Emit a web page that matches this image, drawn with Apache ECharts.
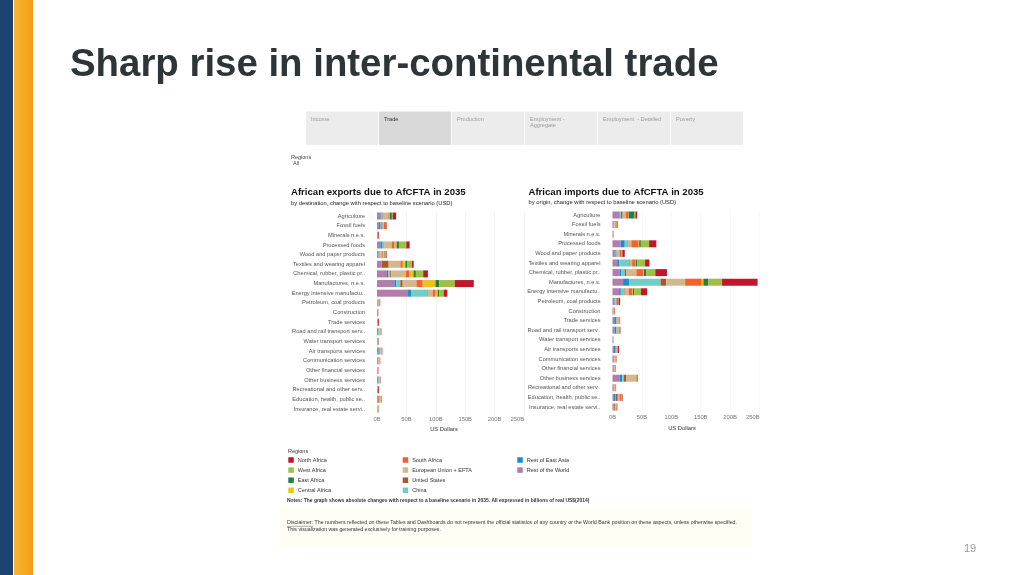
<!DOCTYPE html>
<html><head><meta charset="utf-8">
<script src="https://cdn.jsdelivr.net/npm/echarts@6/dist/echarts.min.js"></script>
<style>html,body{margin:0;padding:0;background:#fff}#c{width:1024px;height:575px}</style>
</head><body><div id="c"></div>
<script>
// ---- data ----
const categories = ["Agriculture","Fossil fuels","Minerals n.e.s.","Processed foods","Wood and paper products","Textiles and wearing apparel","Chemical, rubber, plastic pr..","Manufactures, n.e.s.","Energy intensive manufactu..","Petroleum, coal products","Construction","Trade services","Road and rail transport serv..","Water transport services","Air transports services","Communication services","Other financial services","Other business services","Recreational and other serv..","Education, health, public se..","Insurance, real estate servi.."];
const regions = ["Rest of the World","Rest of East Asia","China","United States","European Union + EFTA","South Africa","Central Africa","East Africa","West Africa","North Africa"];
const tickLabels = ["0B","50B","100B","150B","200B","250B"];
// exports by destination (billions USD)
const expRestWorld   = [5.7,3,1.5,5.7,2.5,6.8,17,29.5,52.8,0.8,0.6,0.8,2,1,2,1.2,0.8,1.5,1,1,0.5];
const expRestEastAsia= [2,3,0,2.8,0.5,0.5,2,3.4,5.1,0.2,0.8,0.1,0.6,0.2,1.2,0.2,0.1,1,0.1,0.3,0.1];
const expChina       = [1,1.5,0,3.4,1.5,0.5,3.5,6.8,27.3,0.2,0.3,0.1,1.2,0.3,2,0.2,0.1,1.2,0.1,0.2,0.1];
const expUS          = [1,2,0,0.5,0.5,12,1.5,4,1,0.3,0.1,0.1,0.3,0.2,0.3,0.6,0.1,0.3,0.1,1.5,0.3];
const expEU          = [9.7,2,0.5,12.5,4,20,25,23.3,8.5,1.8,0.3,0.3,1.5,0.6,1.5,1.8,0.4,1.5,0.3,3,1.5];
const expSouthAfrica = [2,4,0.3,5,1.5,4,5.7,10.8,4,1.2,0.1,0.2,0.5,0.3,0.4,0.6,0.2,0.2,0.1,0.5,0.3];
const expCentralAfr  = [0.5,0.3,0,3.4,1.5,4.5,7.4,21.6,4.5,0.3,0,0.1,0.2,0.1,0.2,0.1,0,0.1,0.1,0.3,0.1];
const expEastAfrica  = [3.4,0.3,0,4,1,2.8,4,6.8,2.8,0.2,0,0.1,0.2,0.1,0.3,0.1,0,0.1,0.1,0.2,0.1];
const expWestAfrica  = [1.5,0.3,0,12.5,2.5,8.5,12.5,26,7.4,0.2,0,0.2,0.4,0.1,0.5,0.3,0.1,0.1,0.1,0.8,0.2];
const expNorthAfrica = [5.7,0.8,1.2,5.7,1,2.8,8,32.4,6.2,0.3,0.2,1.5,0.6,0.4,0.6,0.4,0.6,0.5,1.5,0.4,0.3];
// imports by origin (billions USD)
const impRestWorld   = [12.4,1.5,0.3,14,4,8,12.4,18,11.3,3,1.5,3,3.5,0.6,2.5,2,1.5,12,1.5,2.5,2];
const impRestEastAsia= [1,0.3,0,6.8,1.5,3.4,2.8,10,2.8,1,0.3,3,3,0.2,2.5,0.5,0.3,4.5,0.3,2.5,0.5];
const impChina       = [1,0.3,0,4,2,17,5.7,53.7,5.7,0.5,0.3,1,1,0.2,0.5,0.5,0.3,3,0.3,0.5,0.5];
const impUS          = [2.8,1,0.3,1,0.5,1,2.8,9.6,1,0.5,0.2,0.5,1,0.1,0.5,0.3,1,4,1,3.5,1.5];
const impEU          = [5.7,2,1,6.2,4,4,17,32.2,6.5,1.5,0.5,3,2.5,0.4,1,2,1.5,16,1.5,3,2];
const impSouthAfrica = [4,2,0.3,12.4,3,5.7,11.3,28.3,6.2,3,0.6,1.5,1.5,0.2,1.5,0.8,0.6,1.5,0.6,3,1];
const impCentralAfr  = [0.5,0.2,0,1,0.3,0.5,1.5,2.8,1,0.2,0.1,0.2,0.2,0,0.2,0.1,0,0.2,0.1,0.3,0.1];
const impEastAfrica  = [10,0.2,0,2.8,0.5,2.8,4,8.5,2.5,0.3,0.1,0.2,0.2,0,0.2,0.1,0.1,0.2,0.1,0.3,0.1];
const impWestAfrica  = [1.5,0.3,0,14,1,13,15.3,23.2,11.3,0.5,0.2,0.3,0.4,0.1,0.3,0.2,0.1,0.3,0.2,0.5,0.2];
const impNorthAfrica = [3,1,0.3,12.4,4,7.4,19.8,60.5,10.7,2.5,0.6,0.3,0.5,0.2,1.8,0.5,0.4,1,0.5,1,0.5];

const exportSeries = [expRestWorld,expRestEastAsia,expChina,expUS,expEU,expSouthAfrica,expCentralAfr,expEastAfrica,expWestAfrica,expNorthAfrica];
const importSeries = [impRestWorld,impRestEastAsia,impChina,impUS,impEU,impSouthAfrica,impCentralAfr,impEastAfrica,impWestAfrica,impNorthAfrica];
const regionColors = {"North Africa":"#c1172c","West Africa":"#9fbf45","East Africa":"#1f8040","Central Africa":"#eec11c","South Africa":"#f2612e","European Union + EFTA":"#d3b78e","United States":"#a9582b","China":"#72cdc7","Rest of East Asia":"#1c8ace","Rest of the World":"#b47cac"};

const F = '"Liberation Sans", Arial, sans-serif';
const chart = echarts.init(document.getElementById('c'), null, {renderer:'canvas'});

function txt(x, y, text, font, fill, align, valign) {
  return {type:'text', x:x, y:y, silent:true, style:{text:text, font:font, fill:fill,
    textAlign:align||'left', textVerticalAlign:valign||'middle', align:align||'left', verticalAlign:valign||'middle'}};
}
const tabs = [["Income",306,378],["Trade",379,451],["Production",452,524],["Employment -\nAggregate",525,597],["Employment  - Detailed",598,670],["Poverty",671,743]];
const graphics = [
  {type:'rect', shape:{x:0,y:0,width:13,height:575}, style:{fill:'#1d4372'}, silent:true},
  {type:'rect', shape:{x:14,y:0,width:19,height:575}, style:{fill:new echarts.graphic.LinearGradient(0,0,1,0,[{offset:0,color:'#f8b630'},{offset:1,color:'#f29c19'}])}, silent:true},
  {type:'rect', shape:{x:280,y:508,width:472,height:40}, style:{fill:'#fffdf4'}, silent:true},
  txt(70, 65, 'Sharp rise in inter-continental trade', 'bold 38.4px '+F, '#2e3538', 'left', 'middle'),
  txt(970, 549, '19', '11px '+F, '#9a9a9a', 'center'),
  txt(291, 157, 'Regions', '5.5px '+F, '#444'),
  txt(293, 163.5, 'All', '5.5px '+F, '#444'),
  txt(291, 192.5, 'African exports due to AfCFTA in 2035', 'bold 9.6px '+F, '#111'),
  txt(291, 203.5, 'by destination, change with respect to baseline scenario (USD)', '5.8px '+F, '#222'),
  txt(528.5, 192, 'African imports due to AfCFTA in 2035', 'bold 9.6px '+F, '#111'),
  txt(528.5, 202.5, 'by origin, change with respect to baseline scenario (USD)', '5.8px '+F, '#222'),
  txt(444, 429.5, 'US Dollars', '5.8px '+F, '#333', 'center'),
  txt(682, 428.5, 'US Dollars', '5.8px '+F, '#333', 'center'),
  txt(288, 451.5, 'Regions', '5.5px '+F, '#333'),
  txt(287, 501, 'Notes: The graph shows absolute changes with respect to a baseline scenario in 2035. All expressed in billions of real US$(2014)', 'bold 4.95px '+F, '#333'),
  txt(287, 523, 'Disclaimer: The numbers reflected on these Tables and Dashboards do not represent the official statistics of any country or the World Bank position on these aspects, unless otherwise specified.', '5.28px '+F, '#333'),
  txt(287, 529.5, 'This visualization was generated exclusively for training purposes.', '5.28px '+F, '#333'),
  {type:'line', shape:{x1:287,y1:526.3,x2:313,y2:526.3}, style:{stroke:'#555',lineWidth:0.5}, silent:true}
];
tabs.forEach(function(t){
  graphics.push({type:'rect', shape:{x:t[1],y:111.5,width:t[2]-t[1],height:33.5}, style:{fill:t[0]==='Trade'?'#d9d9d9':'#ececec'}, silent:true});
  graphics.push({type:'text', x:t[1]+5, y:116, silent:true, style:{text:t[0], font:'5.6px '+F, fill:t[0]==='Trade'?'#333':'#9a9a9a', lineHeight:6.6, textVerticalAlign:'top', verticalAlign:'top'}});
});

function legendBlock(names, left) {
  return {show:true, orient:'vertical', left:left, top:457, data:names, icon:'rect', itemWidth:5.5, itemHeight:5.5, itemGap:4.1,
    padding:0, selectedMode:false, textStyle:{fontSize:5.5, fontFamily:F, color:'#333', padding:[0,0,0,-1], lineHeight:5.5}};
}
function axisPair(idx, left, top, height, gridColor) {
  return {
    grid:{left:left, top:top, width:147, height:height, containLabel:false},
    x:{type:'value', gridIndex:idx, min:0, max:250, interval:50,
      axisLine:{show:false}, axisTick:{show:false}, splitLine:{show:true, lineStyle:{color:gridColor, width:1}},
      axisLabel:{fontSize:5.8, fontFamily:F, color:'#777', margin:3, alignMaxLabel:'right', formatter:function(v){return tickLabels[v/50];}}},
    y:{type:'category', gridIndex:idx, data:categories, inverse:true,
      axisLine:{show:false}, axisTick:{show:false},
      axisLabel:{fontSize:5.7, fontFamily:F, color:'#555', margin:12}}
  };
}
const L = axisPair(0, 377, 211.2, 202.6, '#f4f4f4');
const R = axisPair(1, 612.5, 210.2, 201.6, '#f8f8f8');
const series = [];
regions.forEach(function(r,i){
  series.push({name:r, type:'bar', stack:'exp', xAxisIndex:0, yAxisIndex:0, barWidth:7, data:exportSeries[i], itemStyle:{color:regionColors[r]}, silent:true});
  series.push({name:r, type:'bar', stack:'imp', xAxisIndex:1, yAxisIndex:1, barWidth:7, data:importSeries[i], itemStyle:{color:regionColors[r]}, silent:true});
});
chart.setOption({
  animation:false,
  color:regions.map(function(r){return regionColors[r];}),
  grid:[L.grid, R.grid],
  xAxis:[L.x, R.x],
  yAxis:[L.y, R.y],
  legend:[
    legendBlock(["North Africa","West Africa","East Africa","Central Africa"], 288.3),
    legendBlock(["South Africa","European Union + EFTA","United States","China"], 402.7),
    legendBlock(["Rest of East Asia","Rest of the World"], 517.3)
  ],
  series:series,
  graphic:graphics
});
</script></body></html>
